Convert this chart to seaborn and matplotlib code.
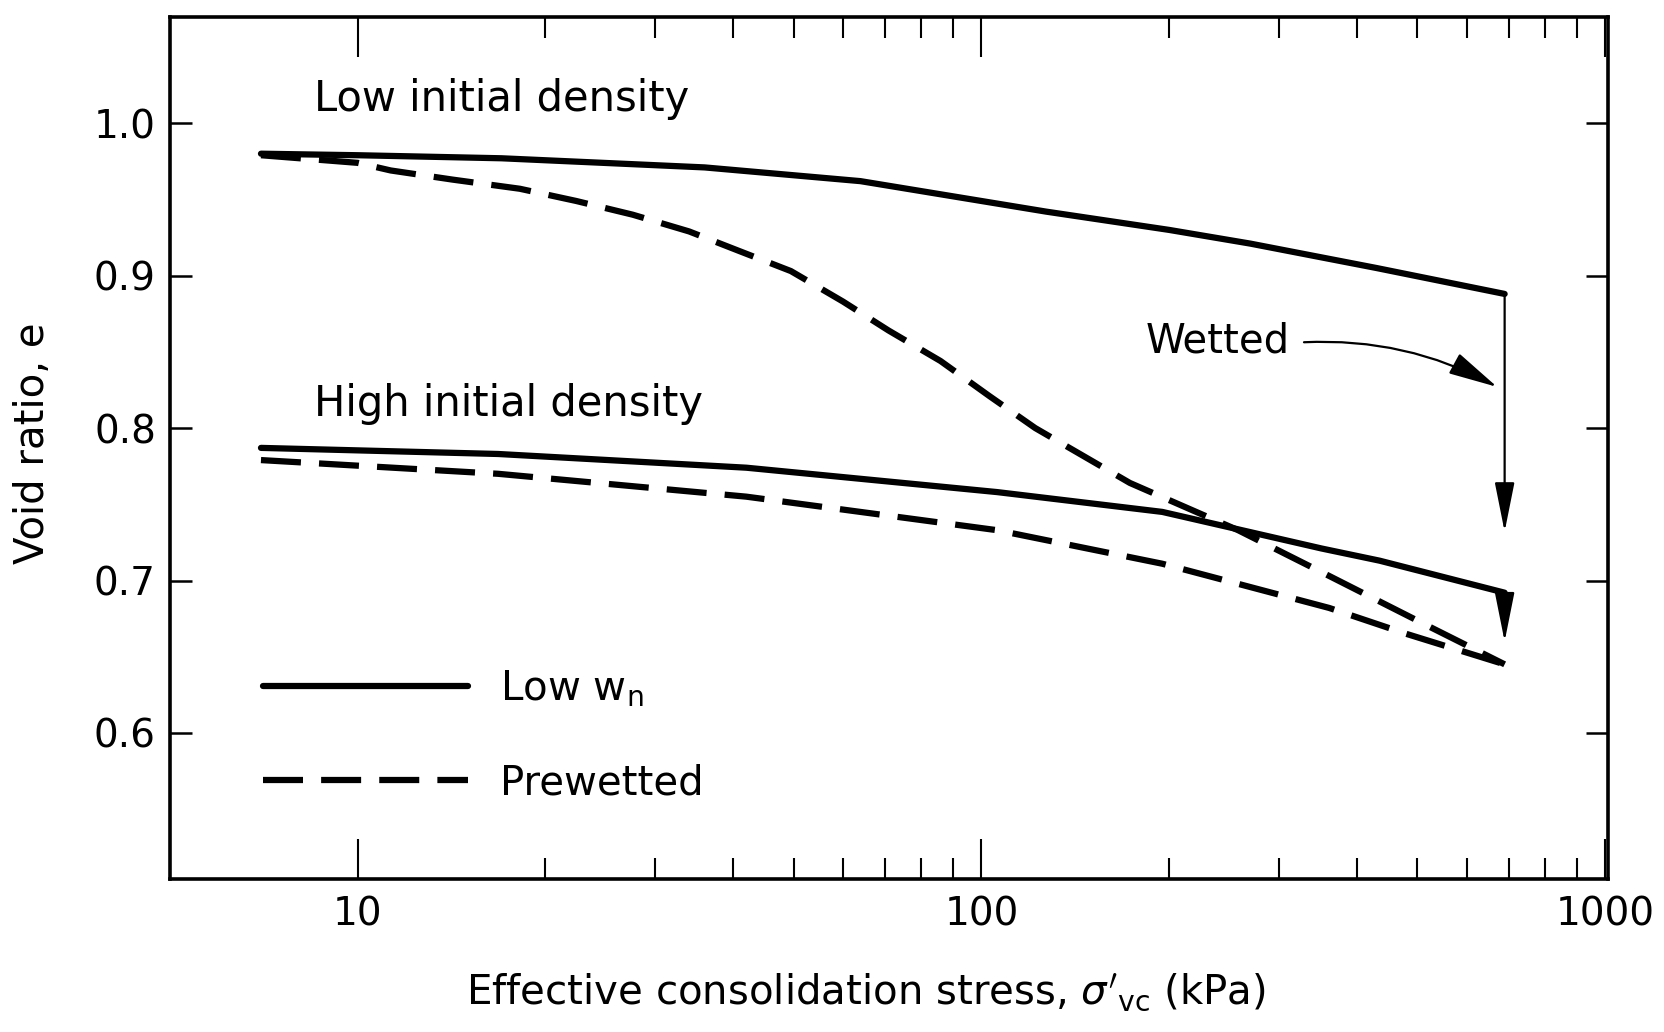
import numpy as np
import pandas as pd
import matplotlib
matplotlib.use("Agg")
import matplotlib.pyplot as plt
import seaborn as sns
from matplotlib.lines import Line2D
from matplotlib.ticker import FixedLocator, FixedFormatter

# valores (tension efectiva en kPa, indice de poros e)
stress_low_dry = [7, 10, 17, 36, 64, 127, 200, 270, 430, 690]
e_low_dry = [0.980, 0.979, 0.977, 0.971, 0.962, 0.942, 0.930, 0.921, 0.905, 0.888]

stress_low_wet = [7, 10, 11.3, 14.2, 18.2, 22.4, 27.6, 34, 41, 49.5, 60, 71, 86,
                  103, 122, 173, 258, 361, 521, 690]
e_low_wet = [0.979, 0.974, 0.969, 0.963, 0.957, 0.949, 0.940, 0.929, 0.916, 0.903,
             0.883, 0.864, 0.844, 0.821, 0.800, 0.764, 0.733, 0.703, 0.670, 0.645]

stress_high_dry = [7, 16.8, 42, 106, 195, 351, 435, 690]
e_high_dry = [0.787, 0.783, 0.774, 0.758, 0.745, 0.721, 0.713, 0.692]

stress_high_wet = [7, 16.8, 42, 106, 195, 361, 480, 690]
e_high_wet = [0.779, 0.770, 0.755, 0.733, 0.711, 0.682, 0.665, 0.645]

# e despues de mojar (flechas verticales)
e_wetted_low = 0.732
e_wetted_high = 0.660

x_major = [10, 100, 1000]
x_major_labels = ["10", "100", "1000"]
x_minor = [20, 30, 40, 50, 60, 70, 80, 90, 200, 300, 400, 500, 600, 700, 800, 900]
y_ticks = [0.6, 0.7, 0.8, 0.9, 1.0]

# tabla larga para seaborn
frames = []
for dens, cond, s, e in [
    ("low", "Low w_n", stress_low_dry, e_low_dry),
    ("low", "Prewetted", stress_low_wet, e_low_wet),
    ("high", "Low w_n", stress_high_dry, e_high_dry),
    ("high", "Prewetted", stress_high_wet, e_high_wet),
]:
    frames.append(pd.DataFrame({"stress": s, "e": e, "density": dens, "condition": cond}))
df = pd.concat(frames, ignore_index=True)
df["curve"] = df["density"] + "_" + df["condition"]

sns.set_theme(style="ticks")
plt.rcParams["font.family"] = ["DejaVu Sans"]
plt.rcParams["mathtext.fontset"] = "dejavusans"
plt.rcParams["text.color"] = "black"
plt.rcParams["axes.labelcolor"] = "black"
plt.rcParams["xtick.color"] = "black"
plt.rcParams["ytick.color"] = "black"

fig = plt.figure(figsize=(16.65, 10.32), dpi=100)
ax = fig.add_axes([0.102, 0.148, 0.864, 0.836])

dash_pat = (6.4, 2.9)
sns.lineplot(
    data=df, x="stress", y="e", style="condition", units="curve",
    estimator=None, sort=False, color="black", linewidth=4.5,
    dashes={"Low w_n": "", "Prewetted": dash_pat}, legend=False, ax=ax
)

ax.set_xscale("log")
ax.set_xlim(5, 1012)
ax.set_ylim(0.504, 1.07)

ax.xaxis.set_major_locator(FixedLocator(x_major))
ax.xaxis.set_major_formatter(FixedFormatter(x_major_labels))
ax.xaxis.set_minor_locator(FixedLocator(x_minor))
ax.yaxis.set_major_locator(FixedLocator(y_ticks))
ax.set_yticklabels([f"{v:.1f}" for v in y_ticks])
ax.yaxis.set_minor_locator(FixedLocator([]))

ax.tick_params(axis="x", which="major", direction="in", top=True, bottom=True,
               length=29, width=1.5, labelsize=28, pad=12)
ax.tick_params(axis="x", which="minor", direction="in", top=True, bottom=True,
               length=15, width=1.5)
ax.tick_params(axis="y", which="major", direction="in", left=True, right=True,
               length=16, width=1.8, labelsize=28, pad=10)
for sp in ax.spines.values():
    sp.set_linewidth(2.6)
    sp.set_color("black")

ax.set_xlabel(r"Effective consolidation stress, $\sigma'_\mathregular{vc}$ (kPa)", fontsize=29)
ax.xaxis.set_label_coords(0.484, -0.108, transform=ax.transAxes)
ax.set_ylabel("Void ratio, e", fontsize=29)
ax.yaxis.set_label_coords(-0.081, 0.505)

# textos
ax.text(8.5, 1.016, "Low initial density", fontsize=30, ha="left", va="center")
ax.text(8.5, 0.816, "High initial density", fontsize=30, ha="left", va="center")

# flechas de mojado
arrow_kw = dict(arrowstyle="-|>,head_length=1.4,head_width=0.28", color="black",
                lw=1.6, mutation_scale=22, shrinkA=0, shrinkB=0)
ax.annotate("", xy=(stress_low_dry[-1], e_wetted_low),
            xytext=(stress_low_dry[-1], e_low_dry[-1]), arrowprops=arrow_kw)
ax.annotate("", xy=(stress_high_dry[-1], e_wetted_high),
            xytext=(stress_high_dry[-1], e_high_dry[-1]), arrowprops=arrow_kw)
ax.annotate("Wetted", xy=(671, 0.827), xytext=(312, 0.857), fontsize=29,
            ha="right", va="center",
            arrowprops=dict(arrowstyle="-|>,head_length=1.4,head_width=0.32",
                            color="black", lw=1.6, mutation_scale=22,
                            connectionstyle="arc3,rad=-0.15",
                            relpos=(1.0, 0.45), shrinkA=8, shrinkB=0))

# leyenda
handles = [
    Line2D([], [], color="black", lw=4.5),
    Line2D([], [], color="black", lw=4.5, dashes=dash_pat),
]
labels = [r"Low w$_\mathregular{n}$", "Prewetted"]
ax.legend(handles, labels, loc="center left", bbox_to_anchor=(0.0646, 0.166),
          frameon=False, fontsize=29, handlelength=5.1, handletextpad=0.8,
          labelspacing=1.35, borderpad=0, borderaxespad=0)

fig.savefig("out.png", dpi=100)
plt.close(fig)
